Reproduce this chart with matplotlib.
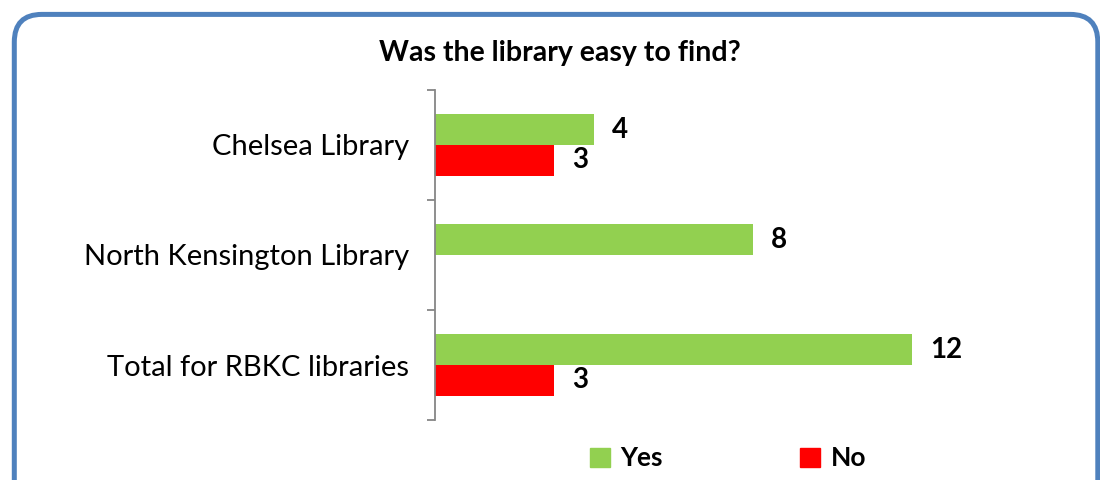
import matplotlib.pyplot as plt
from matplotlib.patches import FancyBboxPatch, Patch

plt.rcParams['font.family'] = ['Lato', 'DejaVu Sans']

libraries = ["Chelsea Library", "North Kensington Library", "Total for RBKC libraries"]
yes = [4, 8, 12]
no = [3, 0, 3]

green = "#92D050"
red = "#FF0000"

fig = plt.figure(figsize=(11, 4.8), dpi=100)

# rounded blue frame round the chart
frame = FancyBboxPatch((0.013, -0.08), 0.985, 1.05, transform=fig.transFigure,
                       boxstyle="round,pad=0,rounding_size=0.025", mutation_aspect=2.3,
                       facecolor="none", edgecolor="#4F81BD", linewidth=3.6,
                       clip_on=False, zorder=-1)
fig.patches.append(frame)

ax = fig.add_axes([0.3955, 0.125, 0.47, 0.6875])
ax.set_facecolor("none")

ypos = list(range(len(libraries)))
h = 0.28
ax.barh([y - h / 2 for y in ypos], yes, height=h, color=green, label="Yes")
ax.barh([y + h / 2 for y in ypos], no, height=h, color=red, label="No")

for y, v in zip(ypos, yes):
    if v:
        ax.annotate(str(v), (v, y - h / 2), xytext=(13, 0), textcoords="offset points",
                    ha="left", va="center", fontsize=20, fontweight="bold")
for y, v in zip(ypos, no):
    if v:
        ax.annotate(str(v), (v, y + h / 2), xytext=(13, 0), textcoords="offset points",
                    ha="left", va="center", fontsize=20, fontweight="bold")

ax.set_xlim(0, 13)
ax.set_ylim(2.5, -0.5)
ax.set_yticks(ypos)
ax.set_yticklabels(libraries, fontsize=21)
ax.set_yticks([-0.5, 0.5, 1.5, 2.5], minor=True)
ax.tick_params(axis="y", which="major", length=0, pad=19)
ax.tick_params(axis="y", which="minor", length=6, color="#868686", width=1.3)
ax.set_xticks([])
for s in ["top", "right", "bottom"]:
    ax.spines[s].set_visible(False)
ax.spines["left"].set_color("#868686")
ax.spines["left"].set_linewidth(1.3)

fig.text(0.509, 0.89, "Was the library easy to find?", ha="center", va="center",
         fontsize=20.5, fontweight="bold")

handles = [Patch(color=green, label="Yes"), Patch(color=red, label="No")]
fig.legend(handles=handles, loc="center", bbox_to_anchor=(0.662, 0.045), ncol=2,
           frameon=False, prop={"size": 19, "weight": "bold"},
           handlelength=0.75, handleheight=0.75, handletextpad=0.4, columnspacing=5.2)

fig.savefig("out.png", dpi=100)
